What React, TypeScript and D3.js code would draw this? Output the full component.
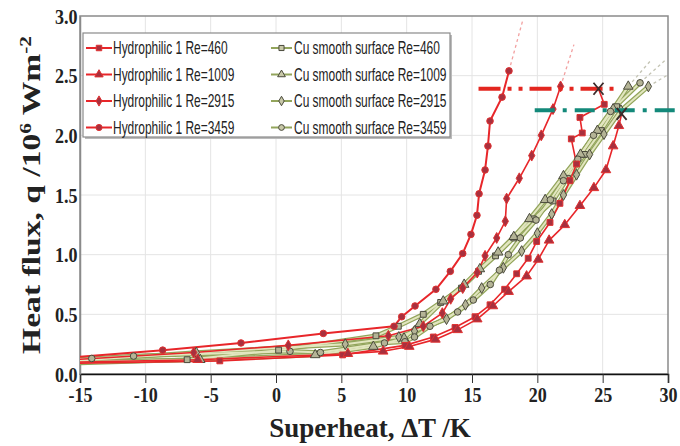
import React, { useEffect, useRef } from 'react';
import * as d3 from 'd3';

type Pt = [number, number];

const xTicks = [-15, -10, -5, 0, 5, 10, 15, 20, 25, 30];
const yTicks = [0, 0.5, 1.0, 1.5, 2.0, 2.5, 3.0];

const hydroLabels = ['Hydrophilic 1 Re=460', 'Hydrophilic 1 Re=1009', 'Hydrophilic 1 Re=2915', 'Hydrophilic 1 Re=3459'];
const cuLabels = ['Cu smooth surface Re=460', 'Cu smooth surface Re=1009', 'Cu smooth surface Re=2915', 'Cu smooth surface Re=3459'];

// Hydrophilic 1 surface
const hydro460: Pt[] = [
  [-15.5, 0.09], [-4.3, 0.11], [5.1, 0.16], [9.87, 0.24], [12.04, 0.31], [13.7, 0.39], [15.23, 0.48],
  [16.38, 0.58], [17.5, 0.71], [18.42, 0.84], [19.3, 0.97], [19.95, 1.11], [20.97, 1.27], [21.73, 1.43],
  [22.5, 1.62], [23.0, 1.76], [22.6, 1.97], [23.44, 2.02], [23.26, 2.15], [25.12, 2.26],
];
const hydro1009: Pt[] = [
  [-15.5, 0.1], [-6, 0.12], [5.5, 0.17], [8.2, 0.19], [10.2, 0.23], [12.2, 0.29], [13.9, 0.37], [15.4, 0.46],
  [16.6, 0.57], [17.8, 0.69], [19.18, 0.82], [20.07, 0.96], [20.9, 1.12], [22.1, 1.25], [23.26, 1.41],
  [24.33, 1.56], [25.25, 1.71], [25.8, 1.91], [26.24, 2.08],
];
const hydro2915: Pt[] = [
  [-15.5, 0.12], [-6.3, 0.18], [0.94, 0.24], [8.6, 0.32], [11.27, 0.4], [12.73, 0.51], [13.37, 0.63],
  [14.29, 0.72], [15.4, 0.85], [16.0, 0.99], [16.89, 1.14], [17.55, 1.28], [17.65, 1.47], [18.62, 1.64],
  [19.57, 1.83], [20.3, 2.0], [21.2, 2.22], [21.78, 2.41],
];
const hydro3459: Pt[] = [
  [-15.5, 0.14], [-8.67, 0.2], [-2.68, 0.26], [3.62, 0.34], [9.03, 0.4], [9.62, 0.48], [10.64, 0.57],
  [12.24, 0.71], [13.34, 0.86], [14.29, 1.01], [14.92, 1.17], [15.38, 1.33], [15.54, 1.51], [16.0, 1.71],
  [16.22, 1.91], [16.38, 2.12], [17.3, 2.32], [17.83, 2.54],
];
// critical heat flux points (X)
const chfPoints: Pt[] = [[24.68, 2.39], [26.45, 2.18]];

// Cu smooth surface
const cu460: Pt[] = [
  [-15.5, 0.09], [-6.8, 0.12], [0.2, 0.2], [7.65, 0.32], [9.36, 0.4], [11.27, 0.5], [12.6, 0.6], [14.2, 0.72],
  [15.5, 0.86], [16.8, 0.99], [18.2, 1.14], [19.7, 1.3], [21.2, 1.45], [22.3, 1.64], [23.6, 1.84],
  [24.9, 2.04], [26.07, 2.24],
];
const cu1009: Pt[] = [
  [-15.5, 0.1], [-5.8, 0.12], [3.0, 0.16], [7.45, 0.23], [9.8, 0.3], [11.0, 0.42], [12.8, 0.61], [14.4, 0.75],
  [15.6, 0.88], [17.0, 1.02], [18.2, 1.15], [19.4, 1.3], [20.6, 1.46], [22.0, 1.66], [23.3, 1.84],
  [24.6, 2.04], [25.8, 2.22], [26.96, 2.41],
];
const cu2915: Pt[] = [
  [-15.5, 0.11], [-6.1, 0.18], [5.3, 0.25], [9.4, 0.31], [10.6, 0.36], [13.05, 0.46], [14.5, 0.58],
  [15.74, 0.72], [17.4, 0.89], [18.8, 1.03], [20.0, 1.18], [21.1, 1.34], [22.0, 1.5], [23.0, 1.67],
  [24.0, 1.84], [25.1, 2.01], [26.4, 2.21], [28.5, 2.41],
];
const cu3459: Pt[] = [
  [-15.5, 0.12], [-14.1, 0.13], [-10.9, 0.15], [1.07, 0.19], [3.4, 0.18], [8.3, 0.26], [9.87, 0.27],
  [10.6, 0.31], [11.78, 0.4], [13.9, 0.52], [15.1, 0.62], [16.4, 0.75], [17.1, 0.87], [17.78, 1.0],
  [18.7, 1.14], [19.9, 1.29], [21.0, 1.46], [22.0, 1.62], [23.1, 1.8], [24.3, 2.0], [25.6, 2.2], [27.86, 2.44],
];

// extrapolation dashes and dash-dot reference levels
const hydroExtensions: Pt[][] = [[[17.83, 2.54], [18.9, 2.97]], [[21.78, 2.41], [22.8, 2.76]]];
const cuExtensions: Pt[][] = [[[26.96, 2.41], [28.7, 2.63]], [[27.86, 2.44], [29.9, 2.64]], [[28.5, 2.41], [30.2, 2.52]]];
const redLevel: Pt[] = [[15.5, 2.39], [26.3, 2.39]];
const tealLevel: Pt[] = [[19.8, 2.21], [30.8, 2.21]];

const App: React.FC = () => {
  const svgRef = useRef<SVGSVGElement | null>(null);

  useEffect(() => {
    if (!svgRef.current) return;
    const svg = d3.select(svgRef.current);
    svg.selectAll('*').remove();

    const left = 80, right = 668, top = 16, bottom = 374;
    const x = d3.scaleLinear().domain([-15, 30]).range([left, right]);
    const y = d3.scaleLinear().domain([0, 3]).range([bottom, top]);
    const line = d3.line<Pt>().x(d => x(d[0])).y(d => y(d[1]));

    const serif = '"Liberation Serif", "Times New Roman", serif';
    const sans = '"Liberation Sans", Arial, sans-serif';

    svg.append('rect').attr('width', 680).attr('height', 446).attr('fill', '#fff');

    svg.append('defs').append('clipPath').attr('id', 'plot')
      .append('rect').attr('x', left).attr('y', top).attr('width', right - left).attr('height', bottom - top);

    // grid
    svg.append('g').selectAll('line').data(xTicks.slice(1, -1)).enter().append('line')
      .attr('x1', d => x(d)).attr('x2', d => x(d)).attr('y1', top).attr('y2', bottom)
      .attr('stroke', '#e4e4e4').attr('stroke-width', 1);
    svg.append('g').selectAll('line').data(yTicks.slice(1, -1)).enter().append('line')
      .attr('x1', left).attr('x2', right).attr('y1', d => y(d)).attr('y2', d => y(d))
      .attr('stroke', '#e4e4e4').attr('stroke-width', 1);

    // frame
    svg.append('rect').attr('x', left).attr('y', top).attr('width', right - left).attr('height', bottom - top)
      .attr('fill', 'none').attr('stroke', '#8a8a8a').attr('stroke-width', 1.5);

    // x axis
    const xAxis = svg.append('g').attr('transform', `translate(0,${bottom})`)
      .call(d3.axisBottom(x).tickValues(xTicks).tickSize(9).tickPadding(3).tickFormat(d => String(d)));
    xAxis.select('.domain').attr('stroke', '#111').attr('stroke-width', 1.6);
    xAxis.selectAll('.tick line').attr('stroke', '#333').attr('stroke-width', 1);
    xAxis.selectAll('.tick text').attr('font-family', serif).attr('font-weight', 'bold')
      .attr('font-size', 22).attr('fill', '#222').attr('transform', 'scale(0.82,1)');

    // y axis
    const yAxis = svg.append('g').attr('transform', `translate(${left},0)`)
      .call(d3.axisLeft(y).tickValues(yTicks).tickSize(0).tickPadding(3).tickFormat(d3.format('.1f')));
    yAxis.select('.domain').attr('stroke', '#8a8a8a').attr('stroke-width', 1.5);
    yAxis.selectAll('.tick text').attr('font-family', serif).attr('font-weight', 'bold')
      .attr('font-size', 22).attr('fill', '#222').attr('transform', 'scale(0.82,1)');

    // axis titles
    svg.append('text').attr('x', 370).attr('y', 437).attr('text-anchor', 'middle')
      .attr('font-family', serif).attr('font-weight', 'bold').attr('font-size', 27).attr('fill', '#222')
      .text('Superheat, \u0394T /K');
    const yt = svg.append('text').attr('transform', 'translate(40,195) rotate(-90) scale(1.12,0.85)')
      .attr('text-anchor', 'middle')
      .attr('font-family', serif).attr('font-weight', 'bold').attr('font-size', 30).attr('fill', '#222');
    yt.append('tspan').text('Heat flux, q /10');
    yt.append('tspan').attr('font-size', 19).attr('dy', -11).text('6');
    yt.append('tspan').attr('dy', 11).text(' Wm');
    yt.append('tspan').attr('font-size', 19).attr('dy', -11).text('-2');

    const plot = svg.append('g').attr('clip-path', 'url(#plot)');

    // dashed extrapolations
    hydroExtensions.forEach(seg => plot.append('path').attr('d', line(seg)).attr('fill', 'none')
      .attr('stroke', '#f2a0a0').attr('stroke-width', 1.3).attr('stroke-dasharray', '3 3'));
    cuExtensions.forEach(seg => plot.append('path').attr('d', line(seg)).attr('fill', 'none')
      .attr('stroke', '#c4c4b4').attr('stroke-width', 1.3).attr('stroke-dasharray', '3 3'));

    // reference levels
    svg.append('path').attr('d', line(redLevel)).attr('stroke', '#e3261f').attr('stroke-width', 4)
      .attr('stroke-dasharray', '22 7 4 7 4 7');
    svg.append('path').attr('d', line(tealLevel)).attr('stroke', '#13897a').attr('stroke-width', 4)
      .attr('stroke-dasharray', '20 8 4 8');

    const symbols = [d3.symbolSquare, d3.symbolTriangle, d3.symbolDiamond, d3.symbolCircle];
    const cuSeries = [cu460, cu1009, cu2915, cu3459];
    const hydroSeries = [hydro460, hydro1009, hydro2915, hydro3459];

    // Cu lines: pale band with olive edges
    cuSeries.forEach(s => {
      plot.append('path').attr('d', line(s)).attr('fill', 'none').attr('stroke', '#93a55c')
        .attr('stroke-width', 4.5).attr('stroke-linejoin', 'round');
    });
    cuSeries.forEach(s => {
      plot.append('path').attr('d', line(s)).attr('fill', 'none').attr('stroke', '#e2e6bf')
        .attr('stroke-width', 2).attr('stroke-linejoin', 'round');
    });

    // hydrophilic lines
    hydroSeries.forEach((s, i) => {
      const pts = i === 0 ? [...s, chfPoints[0]] : i === 1 ? [...s, chfPoints[1]] : s;
      plot.append('path').attr('d', line(pts)).attr('fill', 'none').attr('stroke', '#e8262a')
        .attr('stroke-width', i === 3 ? 2 : 1.6).attr('stroke-linejoin', 'round');
    });

    // markers
    cuSeries.forEach((s, i) => {
      plot.append('g').selectAll('path').data(s).enter().append('path')
        .attr('transform', d => `translate(${x(d[0])},${y(d[1])})`)
        .attr('d', d3.symbol().type(symbols[i]).size(i === 1 ? 40 : 34)())
        .attr('fill', '#b4b496').attr('stroke', '#4a4a3c').attr('stroke-width', 1);
    });
    hydroSeries.forEach((s, i) => {
      plot.append('g').selectAll('path').data(s).enter().append('path')
        .attr('transform', d => `translate(${x(d[0])},${y(d[1])})`)
        .attr('d', d3.symbol().type(symbols[i]).size(i === 1 ? 40 : 34)())
        .attr('fill', '#a8303e').attr('stroke', '#e03030').attr('stroke-width', 1);
    });

    // CHF crosses
    svg.append('g').selectAll('path').data(chfPoints).enter().append('path')
      .attr('transform', d => `translate(${x(d[0])},${y(d[1])})`)
      .attr('d', 'M-5,-6L5,6M-5,6L5,-6').attr('stroke', '#3a2a2a').attr('stroke-width', 1.8);

    // legend
    const lg = svg.append('g');
    lg.append('rect').attr('x', 85).attr('y', 35).attr('width', 367).attr('height', 104).attr('fill', '#bbb');
    lg.append('rect').attr('x', 83).attr('y', 33).attr('width', 367).attr('height', 104)
      .attr('fill', '#fff').attr('stroke', '#8a8a8a').attr('stroke-width', 1.2);
    const rowY = (i: number) => 48 + i * 26.5;
    hydroLabels.forEach((lab, i) => {
      const yy = rowY(i);
      lg.append('line').attr('x1', 86).attr('x2', 112).attr('y1', yy).attr('y2', yy)
        .attr('stroke', '#e8262a').attr('stroke-width', 2);
      lg.append('path').attr('transform', `translate(99,${yy})`)
        .attr('d', d3.symbol().type(symbols[i]).size(30)()).attr('fill', '#a8303e').attr('stroke', '#e03030');
      lg.append('text').attr('transform', `translate(113,${yy + 6}) scale(0.665,1)`)
        .attr('font-family', sans).attr('font-size', 18).attr('fill', '#222').text(lab);
    });
    cuLabels.forEach((lab, i) => {
      const yy = rowY(i);
      lg.append('line').attr('x1', 271).attr('x2', 292).attr('y1', yy).attr('y2', yy)
        .attr('stroke', '#93a55c').attr('stroke-width', 2);
      lg.append('path').attr('transform', `translate(281.5,${yy})`)
        .attr('d', d3.symbol().type(symbols[i]).size(26)()).attr('fill', '#c8c8a8').attr('stroke', '#4a4a3c');
      lg.append('text').attr('transform', `translate(294,${yy + 6}) scale(0.665,1)`)
        .attr('font-family', sans).attr('font-size', 18).attr('fill', '#222').text(lab);
    });
  }, []);

  return (
    <svg ref={svgRef} width={680} height={446} style={{ position: 'absolute', left: 0, top: 0 }} />
  );
};

export default App;
